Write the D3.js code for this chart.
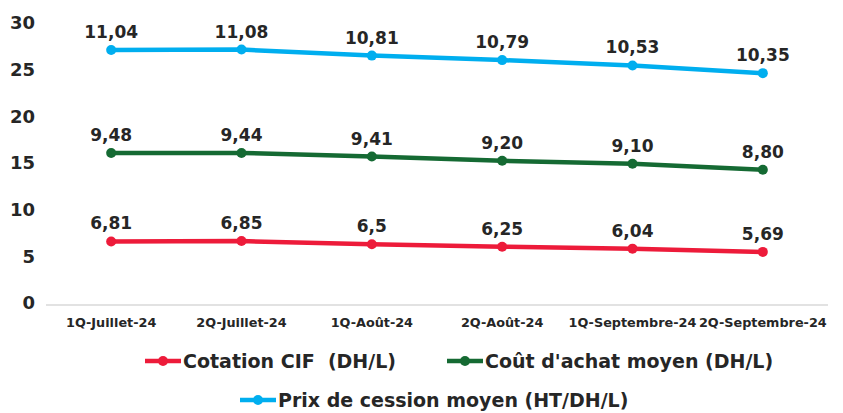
<!DOCTYPE html>
<html>
<head>
<meta charset="utf-8">
<script src="https://cdn.jsdelivr.net/npm/d3@7"></script>
<style>
  body { margin: 0; background: #fff; }
  text { font-family: "DejaVu Sans", sans-serif; font-weight: bold; fill: #262626; white-space: pre; }
</style>
</head>
<body>
<div class="chart"></div>
<script>
var width = 843,
    height = 413

// data
var categories = ["1Q-Juillet-24", "2Q-Juillet-24", "1Q-Août-24", "2Q-Août-24", "1Q-Septembre-24", "2Q-Septembre-24"]
var cotation = [6.81, 6.85, 6.5, 6.25, 6.04, 5.69]
var coutAchat = [9.48, 9.44, 9.41, 9.20, 9.10, 8.80]
var prixCession = [11.04, 11.08, 10.81, 10.79, 10.53, 10.35]
var seriesNames = ["Cotation CIF  (DH/L)", "Coût d'achat moyen (DH/L)", "Prix de cession moyen (HT/DH/L)"]
var colors = ["#ED1B3A", "#156A33", "#00AEEF"]
var yTicks = [0, 5, 10, 15, 20, 25, 30]

var svg = d3.select(".chart")
  .append("svg")
  .attr("width", width)
  .attr("height", height)

var x = d3.scaleBand()
  .domain(categories)
  .range([46, 828])

var y = d3.scaleLinear()
  .domain([0, 30])
  .range([305, 25])

// stacked lines, labels show the own value
var raw = [cotation, coutAchat, prixCession]
var stacked = []
raw.forEach(function(vals, s) {
  stacked.push(vals.map(function(v, i) {
    var base = s > 0 ? stacked[s - 1][i].top : 0
    return {cat: categories[i], value: v, top: base + v}
  }))
})

// y axis labels
svg.append("g")
  .selectAll("text")
  .data(yTicks)
  .enter()
  .append("text")
  .attr("x", 35)
  .attr("y", function(d) { return y(d) - 2 })
  .attr("dy", "0.35em")
  .attr("text-anchor", "end")
  .style("font-size", "18px")
  .text(function(d) { return d })

// x axis
svg.append("line")
  .attr("x1", x.range()[0])
  .attr("x2", x.range()[1])
  .attr("y1", y(0))
  .attr("y2", y(0))
  .attr("stroke", "#d9d9d9")
  .attr("stroke-width", 1.5)

svg.append("g")
  .selectAll("text")
  .data(categories)
  .enter()
  .append("text")
  .attr("x", function(d) { return x(d) + x.bandwidth() / 2 })
  .attr("y", 327)
  .attr("text-anchor", "middle")
  .style("font-size", "12.8px")
  .text(function(d) { return d })

var line = d3.line()
  .x(function(d) { return x(d.cat) + x.bandwidth() / 2 })
  .y(function(d) { return y(d.top) })

stacked.forEach(function(pts, s) {
  var g = svg.append("g").attr("class", "series")
  g.append("path")
    .datum(pts)
    .attr("d", line)
    .attr("fill", "none")
    .attr("stroke", colors[s])
    .attr("stroke-width", 4.5)
    .attr("stroke-linejoin", "round")
  g.selectAll("circle")
    .data(pts)
    .enter()
    .append("circle")
    .attr("cx", function(d) { return x(d.cat) + x.bandwidth() / 2 })
    .attr("cy", function(d) { return y(d.top) })
    .attr("r", 5)
    .attr("fill", colors[s])
  g.selectAll("text")
    .data(pts)
    .enter()
    .append("text")
    .attr("x", function(d) { return x(d.cat) + x.bandwidth() / 2 })
    .attr("y", function(d) { return y(d.top) - 12 })
    .attr("text-anchor", "middle")
    .style("font-size", "17px")
    .text(function(d) { return d.value.toFixed(2).replace(".", ",").replace(/^6,50$/, "6,5") })
})

// legend
var legendPos = [[145, 361], [447, 361], [240, 400]]
seriesNames.forEach(function(name, s) {
  var lg = svg.append("g")
    .attr("transform", "translate(" + legendPos[s][0] + "," + legendPos[s][1] + ")")
  lg.append("line")
    .attr("x1", 0).attr("x2", 36)
    .attr("stroke", colors[s])
    .attr("stroke-width", 4.5)
  lg.append("circle")
    .attr("cx", 18)
    .attr("r", 5)
    .attr("fill", colors[s])
  lg.append("text")
    .attr("x", 38)
    .attr("dy", "0.35em")
    .style("font-size", "19px")
    .text(name)
})
</script>
</body>
</html>
